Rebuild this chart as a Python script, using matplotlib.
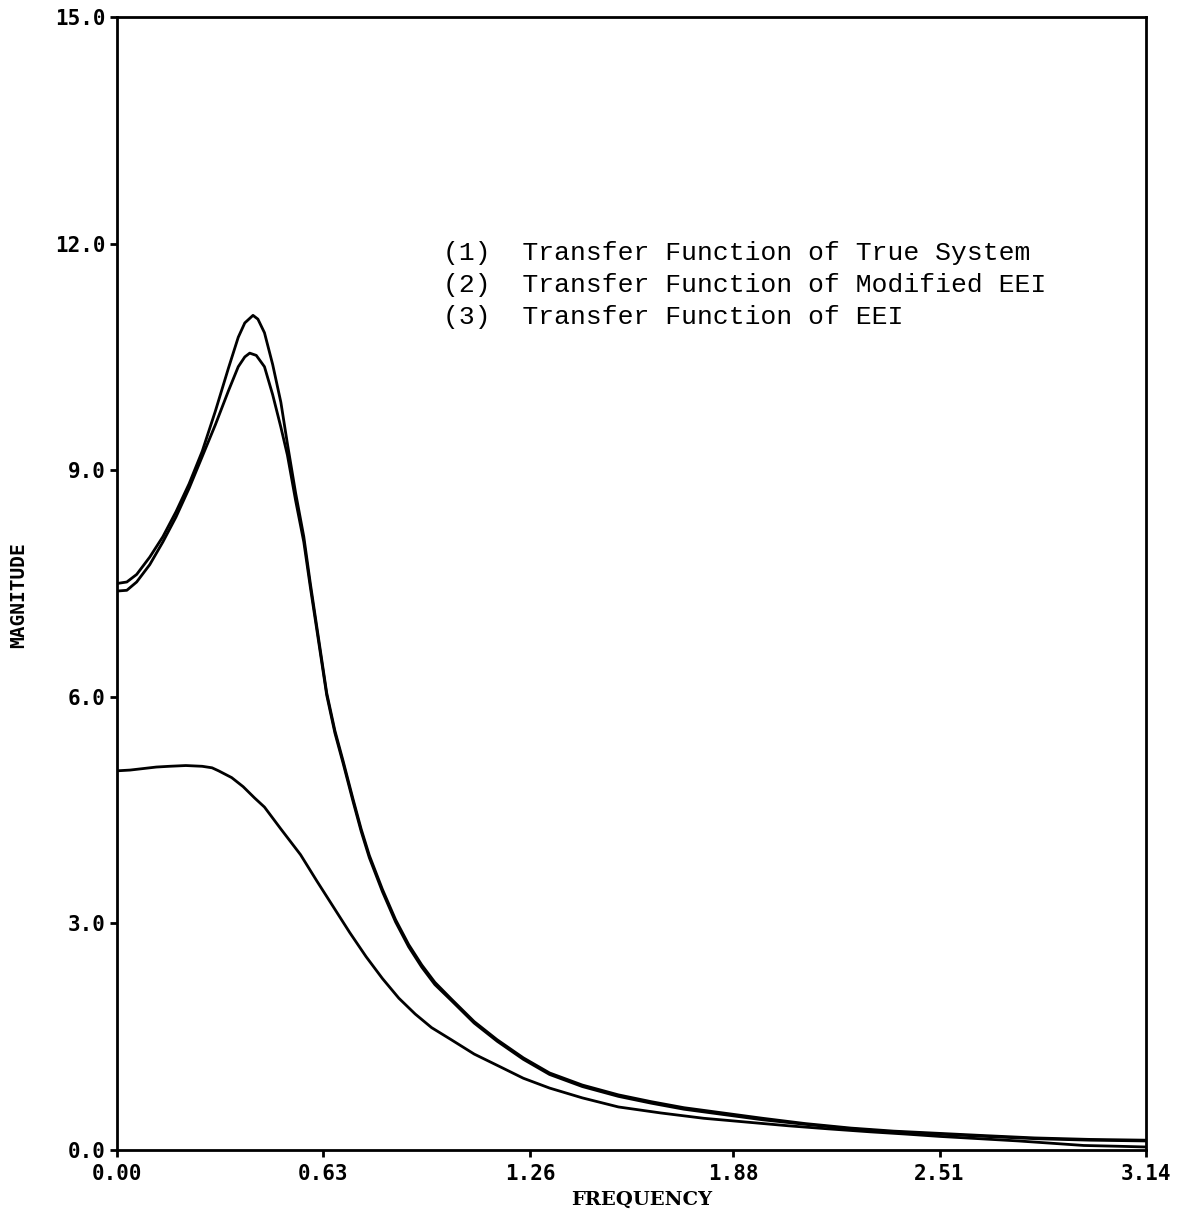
import matplotlib
matplotlib.use("Agg")
import matplotlib.pyplot as plt

# values
true_x = [0.00, 0.03, 0.06, 0.10, 0.14, 0.18, 0.22, 0.26, 0.30, 0.34, 0.37, 0.39,
          0.415, 0.43, 0.45, 0.475, 0.50, 0.52, 0.545, 0.57, 0.59, 0.61, 0.64, 0.665,
          0.69, 0.72, 0.745, 0.77, 0.81, 0.85, 0.89, 0.93, 0.97, 1.02, 1.09, 1.16,
          1.24, 1.32, 1.42, 1.53, 1.63, 1.73, 1.85, 1.97, 2.10, 2.24, 2.37, 2.51,
          2.65, 2.80, 2.97, 3.14]
true_y = [7.50, 7.52, 7.62, 7.85, 8.12, 8.45, 8.82, 9.25, 9.78, 10.35, 10.76, 10.95,
          11.05, 11.00, 10.82, 10.40, 9.90, 9.35, 8.70, 8.12, 7.50, 6.92, 6.05, 5.55,
          5.15, 4.65, 4.25, 3.90, 3.45, 3.05, 2.72, 2.45, 2.22, 2.00, 1.70, 1.46,
          1.22, 1.02, 0.86, 0.73, 0.64, 0.56, 0.49, 0.42, 0.35, 0.29, 0.25, 0.22,
          0.19, 0.16, 0.14, 0.13]

mod_x = [0.00, 0.03, 0.06, 0.10, 0.14, 0.18, 0.22, 0.26, 0.30, 0.34, 0.37, 0.39,
         0.405, 0.425, 0.45, 0.475, 0.50, 0.52, 0.545, 0.57, 0.59, 0.61, 0.64, 0.665,
         0.69, 0.72, 0.745, 0.77, 0.81, 0.85, 0.89, 0.93, 0.97, 1.02, 1.09, 1.16,
         1.24, 1.32, 1.42, 1.53, 1.63, 1.73, 1.85, 1.97, 2.10, 2.24, 2.37, 2.51,
         2.65, 2.80, 2.97, 3.14]
mod_y = [7.40, 7.41, 7.52, 7.75, 8.05, 8.38, 8.76, 9.18, 9.60, 10.05, 10.37, 10.50,
         10.55, 10.52, 10.37, 10.00, 9.57, 9.20, 8.60, 8.05, 7.45, 6.88, 6.02, 5.52,
         5.12, 4.62, 4.22, 3.87, 3.42, 3.02, 2.69, 2.42, 2.19, 1.98, 1.68, 1.44,
         1.20, 1.00, 0.84, 0.71, 0.62, 0.54, 0.47, 0.40, 0.34, 0.28, 0.24, 0.21,
         0.18, 0.15, 0.13, 0.12]

eei_x = [0.00, 0.04, 0.08, 0.12, 0.16, 0.21, 0.26, 0.29, 0.31, 0.35, 0.385, 0.42,
         0.45, 0.50, 0.56, 0.61, 0.66, 0.71, 0.76, 0.81, 0.86, 0.91, 0.96, 1.02,
         1.09, 1.17, 1.24, 1.32, 1.42, 1.53, 1.66, 1.79, 1.92, 2.05, 2.17, 2.30,
         2.41, 2.51, 2.63, 2.75, 2.85, 2.95, 3.05, 3.14]
eei_y = [5.02, 5.03, 5.05, 5.07, 5.08, 5.09, 5.08, 5.06, 5.02, 4.93, 4.81, 4.66,
         4.54, 4.25, 3.91, 3.56, 3.22, 2.88, 2.56, 2.27, 2.01, 1.80, 1.62, 1.46,
         1.27, 1.10, 0.95, 0.82, 0.69, 0.57, 0.49, 0.42, 0.37, 0.32, 0.28, 0.24,
         0.21, 0.18, 0.15, 0.12, 0.09, 0.06, 0.05, 0.04]

x_ticks = [0.00, 0.63, 1.26, 1.88, 2.51, 3.14]
y_ticks = [0.0, 3.0, 6.0, 9.0, 12.0, 15.0]

legend_lines = ["(1)  Transfer Function of True System",
                "(2)  Transfer Function of Modified EEI",
                "(3)  Transfer Function of EEI"]

fig = plt.figure(figsize=(11.84, 12.15), dpi=100)
ax = fig.add_axes([117 / 1184, 1 - 1150 / 1215, 1029 / 1184, 1133 / 1215])

for xs, ys in [(true_x, true_y), (mod_x, mod_y), (eei_x, eei_y)]:
    ax.plot(xs, ys, color="black", lw=2.0)

ax.set_xlim(0, 3.14)
ax.set_ylim(0, 15)
ax.set_xticks(x_ticks)
ax.set_xticklabels([f"{v:.2f}" for v in x_ticks])
ax.set_yticks(y_ticks)
ax.set_yticklabels([f"{v:.1f}" for v in y_ticks])

for lab in ax.get_xticklabels() + ax.get_yticklabels():
    lab.set_family("DejaVu Sans Mono")
    lab.set_fontweight("bold")
    lab.set_fontsize(15)

ax.tick_params(direction="out", length=5, width=2, pad=3, colors="black")
ax.tick_params(axis="x", pad=5)
for s in ax.spines.values():
    s.set_linewidth(2)

ax.set_xlabel("FREQUENCY", family="DejaVu Serif", fontweight="bold", fontsize=14)
ax.xaxis.set_label_coords(0.51, -0.036)
ax.set_ylabel("MAGNITUDE", family="DejaVu Sans Mono", fontweight="bold", fontsize=14)
ax.yaxis.set_label_coords(-0.086, 0.49)

# legend drawn as plain text lines, typewriter style
for i, line in enumerate(legend_lines):
    yy = 11.87 - i * 0.42
    ax.text(0.995, yy, line, family="Liberation Mono", fontsize=19, va="center")

fig.savefig("out.png", dpi=100)
